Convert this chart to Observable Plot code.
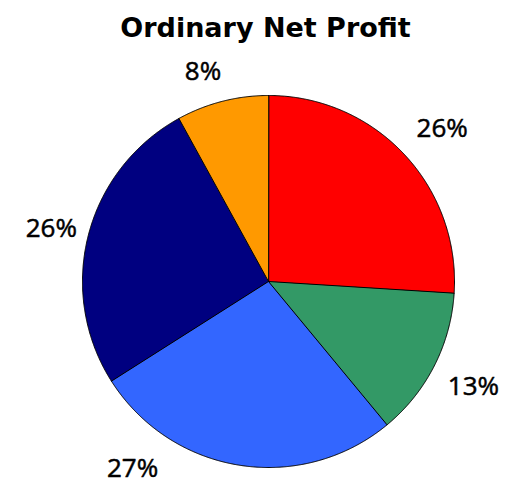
<!DOCTYPE html>
<html>
<head>
<meta charset="utf-8">
<script src="https://cdn.jsdelivr.net/npm/d3@7"></script>
<script src="https://cdn.jsdelivr.net/npm/@observablehq/plot@0.6"></script>
<style>
  html, body { margin: 0; padding: 0; background: #fff; }
  svg { display: block; }
</style>
</head>
<body>
<div id="chart"></div>
<script>
const title = "Ordinary Net Profit";
const categories = ["A", "B", "C", "D", "E"];
const values = [26, 13, 27, 26, 8];
const labels = ["26%", "13%", "27%", "26%", "8%"];
const colors = ["#FF0000", "#339966", "#3366FF", "#000080", "#FF9900"];

const arcs = d3.pie().sort(null).value(d => d.value)(
  categories.map((c, i) => ({cat: c, value: values[i], label: labels[i]}))
);

// polygon vertices for each slice
const pts = [];
for (const a of arcs) {
  const n = Math.max(2, Math.ceil((a.endAngle - a.startAngle) / 0.005));
  pts.push({cat: a.data.cat, x: 0, y: 0});
  for (let k = 0; k <= n; k++) {
    const t = a.startAngle + (a.endAngle - a.startAngle) * k / n;
    pts.push({cat: a.data.cat, x: Math.sin(t), y: Math.cos(t)});
  }
}
// labels outside each slice; kept inside the plot area like the original
const LR = 1.2;
const lab = arcs.map(a => {
  const m = (a.startAngle + a.endAngle) / 2;
  return {cat: a.data.cat, label: a.data.label, x: LR * Math.sin(m), y: Math.max(-1, LR * Math.cos(m))};
});
const labelMark = (cat, dx, dy) =>
  Plot.text(lab.filter(d => d.cat === cat), {
    x: "x", y: "y", text: "label", fontSize: 26, fontFamily: "Open Sans",
    fill: "#000", stroke: "#000", strokeWidth: 0.5, dx, dy
  });

const chart = Plot.plot({
  width: 512,
  height: 483,
  marginLeft: 82,
  marginRight: 58,
  marginTop: 95,
  marginBottom: 16,
  x: {domain: [-1, 1], axis: null},
  y: {domain: [-1, 1], axis: null},
  color: {domain: categories, range: colors},
  style: {fontFamily: "DejaVu Sans", background: "#fff"},
  marks: [
    Plot.line(pts, {x: "x", y: "y", z: "cat", fill: "cat", stroke: "#000", strokeWidth: 1, curve: "linear-closed"}),
    labelMark("A", 11, 0),
    labelMark("B", 6, 4),
    labelMark("C", -101, 1),
    labelMark("D", -1, 3),
    labelMark("E", -10, 6),
    Plot.text([title], {text: d => d, frameAnchor: "top", dy: -78, dx: -3, fontSize: 27, fontWeight: "bold", fill: "#000"})
  ]
});
document.getElementById("chart").appendChild(chart);
</script>
</body>
</html>
